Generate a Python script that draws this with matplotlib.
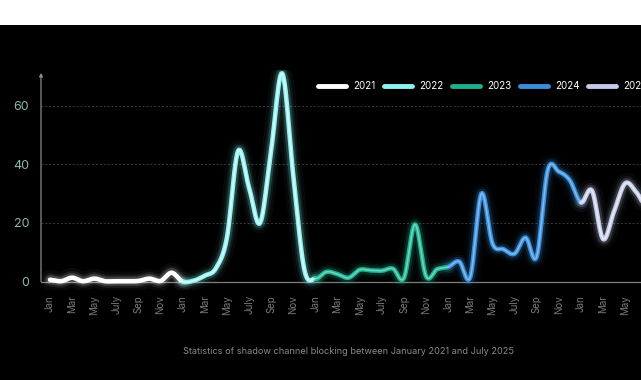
import matplotlib

matplotlib.use("Agg")
import matplotlib.pyplot as plt
import numpy as np
from matplotlib.patches import Rectangle

plt.rcParams["font.family"] = ["Inter", "DejaVu Sans"]

# monthly values, Jan 2021 .. Jul 2025
years = ["2021", "2022", "2023", "2024", "2025"]
v2021 = [0.6, 0.1, 1.3, 0.1, 1.0, 0.1, 0.1, 0.1, 0.2, 1.0, 0.2, 3.0]
v2022 = [0.0, 0.3, 2.0, 4.5, 15.0, 44.5, 32.0, 20.0, 45.0, 71.0, 36.0, 4.0]
v2023 = [1.0, 3.3, 2.5, 1.3, 4.0, 3.8, 3.7, 4.4, 1.2, 19.5, 1.8, 4.2]
v2024 = [5.0, 6.8, 1.6, 30.0, 13.0, 11.0, 9.5, 15.0, 8.5, 38.0, 37.5, 34.5]
v2025 = [27.0, 31.0, 14.5, 24.0, 33.5, 30.5, 25.0]
colors = ["#ffffff", "#8ef3f0", "#1fae8e", "#3a8fdc", "#c3cbe6"]
cores = ["#ffffff", "#e6ffff", "#7fe0c8", "#8fc4f2", "#eef1fb"]
month_labels = ["Jan", "Mar", "May", "July", "Sep", "Nov"]
caption = "Statistics of shadow channel blocking between January 2021 and July 2025"


def catmull_rom(vals, steps=12):
    p = np.asarray(vals, dtype=float)
    p = np.concatenate([[p[0]], p, [p[-1]]])
    xs, ys = [], []
    for i in range(1, len(p) - 2):
        p0, p1, p2, p3 = p[i - 1], p[i], p[i + 1], p[i + 2]
        t = np.linspace(0, 1, steps, endpoint=False)
        y = 0.5 * (2 * p1 + (-p0 + p2) * t + (2 * p0 - 5 * p1 + 4 * p2 - p3) * t**2
                   + (-p0 + 3 * p1 - 3 * p2 + p3) * t**3)
        xs.append(i - 1 + t)
        ys.append(y)
    xs.append([len(vals) - 1])
    ys.append([vals[-1]])
    return np.concatenate(xs), np.concatenate(ys)


def glow(ax, x, y, color, core):
    for lw, a in [(14, 0.04), (9.5, 0.08), (6.5, 0.18)]:
        ax.plot(x, y, color=color, lw=lw, alpha=a, solid_capstyle="round", zorder=3)
    line, = ax.plot(x, y, color=color, lw=3.3, solid_capstyle="round", zorder=4)
    ax.plot(x, y, color=core, lw=1.2, alpha=0.8, solid_capstyle="round", zorder=5)
    return line


series = [v2021, v2022, v2023, v2024, v2025]
allvals = [v for s in series for v in s]
mx, my = catmull_rom(allvals)

fig = plt.figure(figsize=(6.41, 3.80), dpi=100)
fig.patch.set_facecolor("#000000")
fig.patches.append(Rectangle((0, 1 - 25 / 380), 1, 25 / 380, transform=fig.transFigure,
                             facecolor="white", edgecolor="none", zorder=0))

ax = fig.add_axes([41 / 641, 0.236, 600 / 641, 0.5785])
ax.set_facecolor("#000000")
ax.set_xlim(-0.81, 53.43)
ax.set_ylim(-3, 72)

handles = []
for k, name in enumerate(years):
    lo, hi = 12 * k, 12 * k + 12
    sel = (mx >= lo) & (mx <= hi)
    handles.append(glow(ax, mx[sel], my[sel], colors[k], cores[k]))

for s in ax.spines.values():
    s.set_visible(False)

ax.set_yticks([0, 20, 40, 60])
ax.set_yticklabels(["0", "20", "40", "60"])
ax.tick_params(axis="y", length=0, pad=8.5, labelsize=9, labelcolor="#8fb8b0")
for yv in [20, 40, 60]:
    ax.axhline(yv, color="#3a3a3a", lw=0.7, linestyle=(0, (2, 2)), zorder=1)
ax.axhline(0, color="#7d7d7d", lw=0.9, zorder=2)
ax.annotate("", xy=(0, 71.2), xytext=(0, 0), xycoords=("axes fraction", "data"),
            arrowprops=dict(arrowstyle="-|>", color="#8a8a8a", lw=0.9,
                            mutation_scale=5, shrinkA=0, shrinkB=0),
            annotation_clip=False)

ticks = list(range(0, 54, 2))
ax.set_xticks(ticks)
ax.set_xticklabels([month_labels[(t % 12) // 2] for t in ticks], rotation=90)
ax.tick_params(axis="x", length=0, pad=3.5, labelsize=7, labelcolor="#7a7a7a")

leg = ax.legend(handles, years, loc="center left", ncol=5, frameon=False,
                bbox_to_anchor=(318 / 641, 1 - 86 / 380), bbox_transform=fig.transFigure,
                fontsize=7, handlelength=2.9, handletextpad=0.7, columnspacing=0.9,
                borderpad=0, borderaxespad=0)
for t in leg.get_texts():
    t.set_color("white")
for h in leg.get_lines():
    h.set_linewidth(3.5)

fig.text(348.5 / 641, 1 - 351 / 380, caption, ha="center", va="center",
         fontsize=6.6, color="#8a8a8a")

fig.savefig("out.png", dpi=100, facecolor=fig.get_facecolor())
